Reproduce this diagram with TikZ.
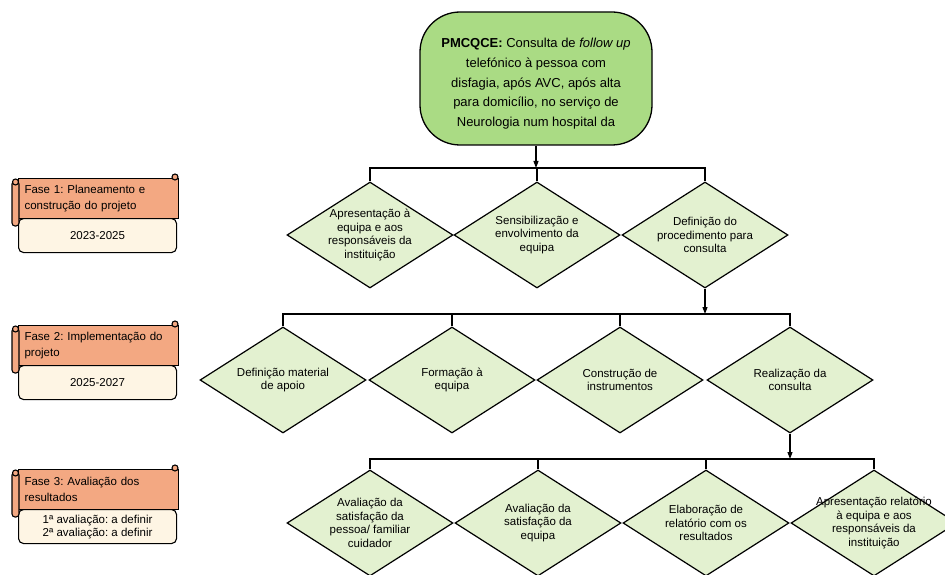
\documentclass[tikz,border=0pt]{standalone}
\usepackage{fontspec}
\setmainfont{Liberation Sans}
\usetikzlibrary{arrows.meta, shapes.geometric}
\definecolor{topgreen}{HTML}{AADB84}
\definecolor{diagreen}{HTML}{E3F1D0}
\definecolor{faseorange}{HTML}{F3A882}
\definecolor{fasecream}{HTML}{FEF5E4}
\frenchspacing

\begin{document}
\begin{tikzpicture}[x=1pt, y=-1pt]
\tikzstyle{every node}=[font=\fontsize{11.5}{13.7}\selectfont]
\tikzstyle{dia}=[diamond, draw, line width=1.2pt, fill=diagreen, minimum width=166pt, minimum height=106pt, inner sep=0pt]
\tikzstyle{dtxt}=[align=center, inner sep=0pt]
\tikzstyle{link}=[line width=1.1pt]
\tikzstyle{arr}=[link, -{Triangle[length=7pt, width=5pt]}]
\tikzstyle{fasehead}=[draw, line width=1.1pt, fill=faseorange, anchor=north west, minimum width=160pt, minimum height=40pt, text width=148pt, inner xsep=6pt, inner ysep=0pt, align=left, font=\fontsize{11.5}{16}\selectfont]
\tikzstyle{fasebody}=[draw, line width=1.1pt, fill=fasecream, anchor=north west, rounded corners=5pt, minimum width=158pt, minimum height=34pt, align=center]
\tikzstyle{curl}=[link, fill=faseorange]

\clip (0,0) rectangle (945,575);

% fases
\node[fasebody] (ano1) at (18,218) {2023-2025};
\node[fasehead] (fase1) at (18,178) {Fase 1: Planeamento e\\construção do projeto};
    \draw[curl, rounded corners=3pt] (12,181) rectangle (19,226);
    \draw[curl] (15.5,182) circle [radius=3];
    \draw[curl] (175,177) circle [radius=3];

\node[fasebody] (ano2) at (18,365) {2025-2027};
\node[fasehead] (fase2) at (18,325) {Fase 2: Implementação do\\projeto};
    \draw[curl, rounded corners=3pt] (12,328) rectangle (19,373);
    \draw[curl] (15.5,329) circle [radius=3];
    \draw[curl] (175,324) circle [radius=3];

\node[fasebody, font=\fontsize{11.5}{13}\selectfont] (ano3) at (18,509) {1ª avaliação: a definir\\2ª avaliação: a definir};
\node[fasehead] (fase3) at (18,469) {Fase 3: Avaliação dos\\resultados};
    \draw[curl, rounded corners=3pt] (12,472) rectangle (19,517);
    \draw[curl] (15.5,473) circle [radius=3];
    \draw[curl] (175,468) circle [radius=3];

% topo
\node[draw, line width=1.3pt, fill=topgreen, rounded corners=40pt, minimum width=232pt, minimum height=133pt, align=center, font=\fontsize{13}{19.8}\selectfont] (pmcqce) at (536,78.5)
    {\rule{0pt}{20pt}\textbf{PMCQCE:} Consulta de \textit{follow up}\\telefónico à pessoa com\\disfagia, após AVC, após alta\\para domicílio, no serviço de\\Neurologia num hospital da};

% fase 1
\node[dia, label={[dtxt]center:{Apresentação à\\equipa e aos\\responsáveis da\\instituição}}] (apres) at (370,235) {};
\node[dia, label={[dtxt]center:{Sensibilização e\\envolvimento da\\equipa}}] (sensib) at (537,235) {};
\node[dia, label={[dtxt]center:{Definição do\\procedimento para\\consulta}}] (defproc) at (705,235) {};

\coordinate (bar1) at (536,168);
\draw[arr] (pmcqce) -- (bar1);
\draw[link] (apres) -- (apres |- bar1) -- (defproc |- bar1) -- (defproc);
\draw[link] (sensib) -- (sensib |- bar1);

% fase 2
\node[dia, label={[dtxt]center:{Definição material\\de apoio}}] (defmat) at (283,380) {};
\node[dia, label={[dtxt]center:{Formação à\\equipa}}] (formacao) at (452,380) {};
\node[dia, label={[dtxt]center:{Construção de\\instrumentos}}] (construcao) at (620,380) {};
\node[dia, label={[dtxt]center:{Realização da\\consulta}}] (realiz) at (790,380) {};

\coordinate (bar2) at (705,314);
\draw[arr] (defproc) -- (bar2);
\draw[link] (defmat) -- (defmat |- bar2) -- (realiz |- bar2) -- (realiz);
\draw[link] (formacao) -- (formacao |- bar2);
\draw[link] (construcao) -- (construcao |- bar2);

% fase 3
\node[dia, label={[dtxt]center:{Avaliação da\\satisfação da\\pessoa/ familiar\\cuidador}}] (avpessoa) at (370,523) {};
\node[dia, label={[dtxt]center:{Avaliação da\\satisfação da\\equipa}}] (avequipa) at (538,523) {};
\node[dia, label={[dtxt]center:{Elaboração de\\relatório com os\\resultados}}] (relat) at (706,523) {};
\node[dia, label={[dtxt]center:{Apresentação relatório\\à equipa e aos\\responsáveis da\\instituição}}] (apresrel) at (874,523) {};

\coordinate (bar3) at (790,459);
\draw[arr] (realiz) -- (bar3);
\draw[link] (avpessoa) -- (avpessoa |- bar3) -- (apresrel |- bar3) -- (apresrel);
\draw[link] (avequipa) -- (avequipa |- bar3);
\draw[link] (relat) -- (relat |- bar3);

\end{tikzpicture}
\end{document}
